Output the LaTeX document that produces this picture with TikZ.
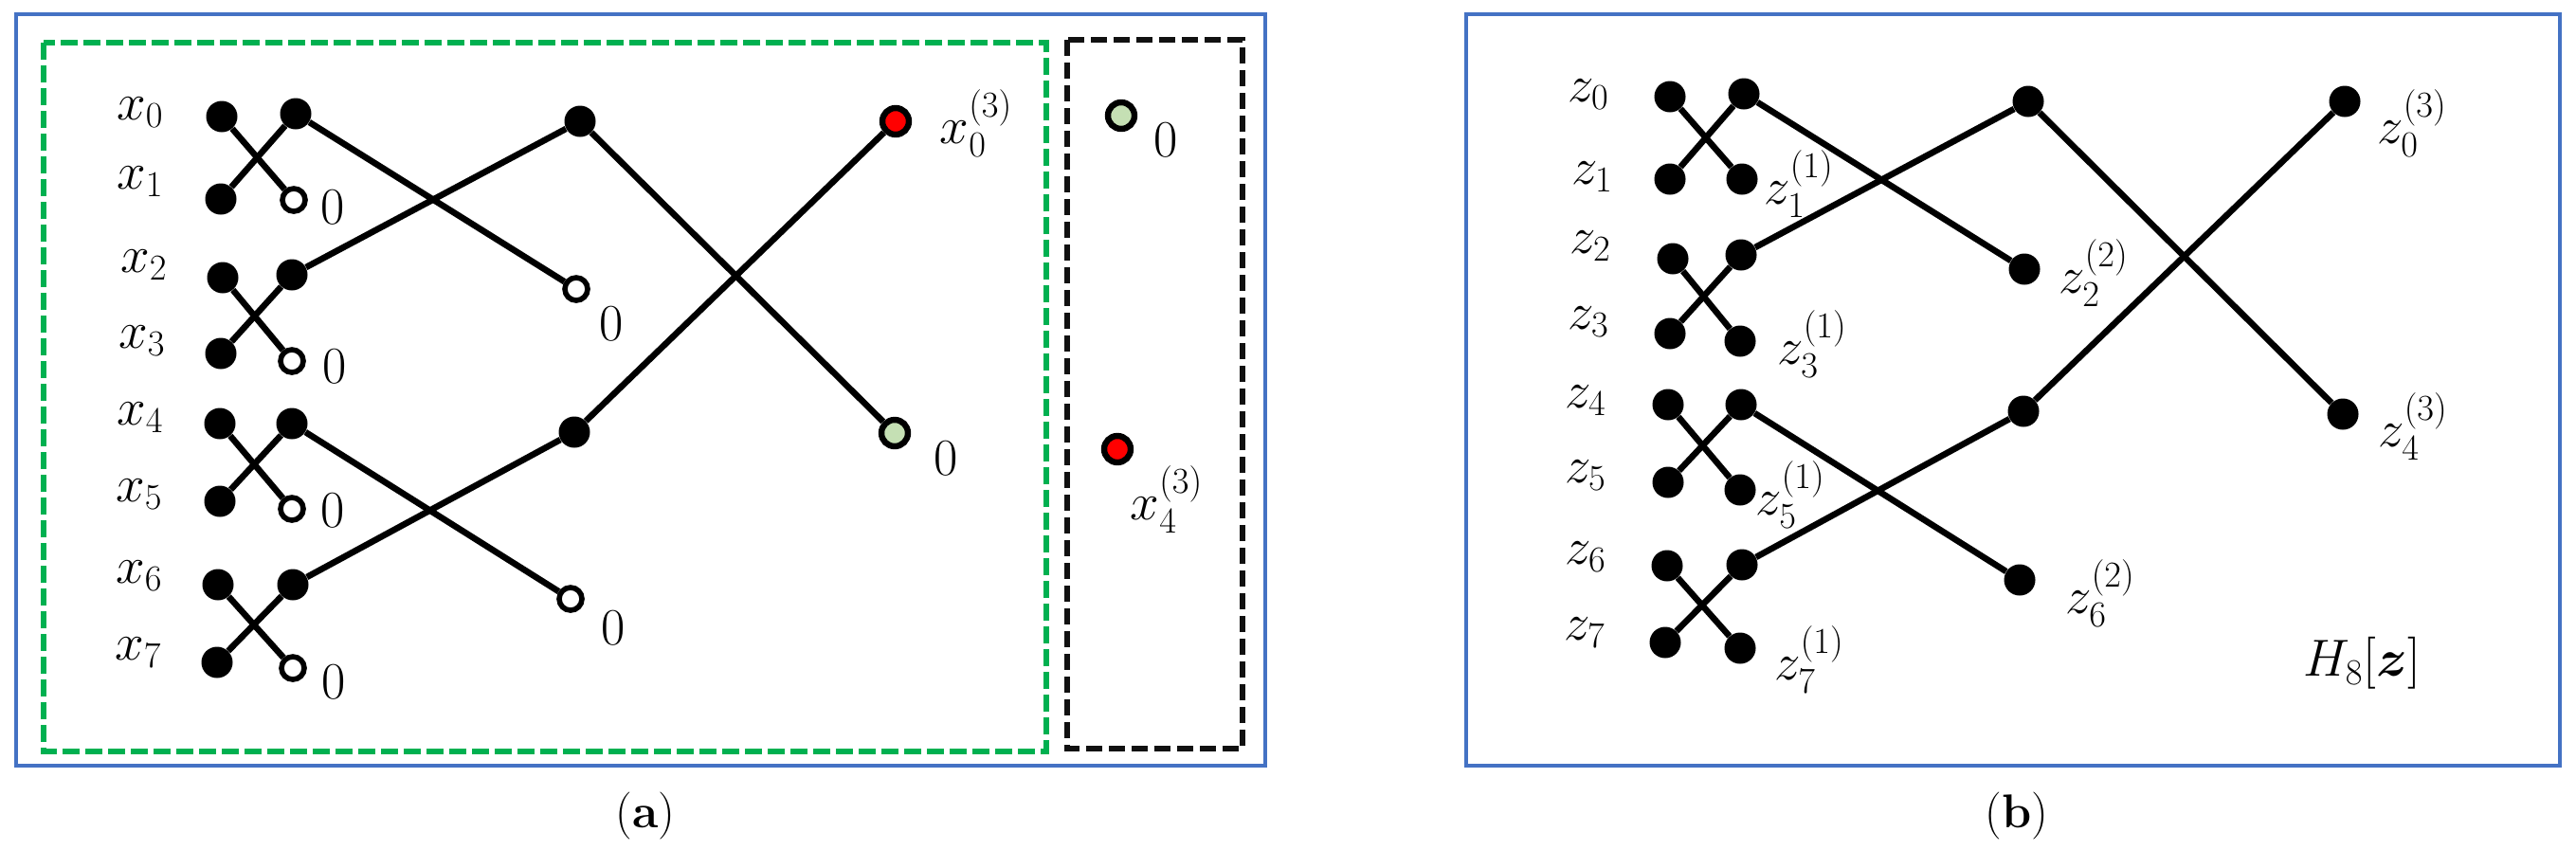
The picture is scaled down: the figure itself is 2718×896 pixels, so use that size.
\RequirePackage{fix-cm}
\documentclass[tikz,border=0pt]{standalone}
\usepackage{amsmath,bm}
\definecolor{frameblue}{HTML}{4472C4}
\definecolor{dashgreen}{HTML}{00B050}
\definecolor{lightgreen}{HTML}{C5E0B4}
\definecolor{dotred}{HTML}{FF0000}
\definecolor{dashblack}{HTML}{111111}
\begin{document}
\begin{tikzpicture}[x=0.5pt,y=-0.5pt,
  fdot/.style={circle,fill=black,inner sep=0pt,minimum size=16.5pt},
  odot/.style={circle,draw=black,fill=white,line width=2.8pt,inner sep=0pt,minimum size=12pt},
  rdot/.style={circle,draw=black,fill=dotred,line width=3.2pt,inner sep=0pt,minimum size=14pt},
  gdot/.style={circle,draw=black,fill=lightgreen,line width=3.2pt,inner sep=0pt,minimum size=14pt},
  lbl/.style={inner sep=0pt,font=\fontsize{27.5}{32}\selectfont},
  captext/.style={inner sep=0pt,font=\fontsize{25}{30}\selectfont},
  link/.style={line width=3.3pt},
  frame/.style={draw=frameblue,line width=2pt},
  gbox/.style={draw=dashgreen,line width=3pt,dash pattern=on 9pt off 3pt},
  kbox/.style={draw=dashblack,line width=3.3pt,dash pattern=on 8.5pt off 3.5pt}
]
\useasboundingbox[fill=white] (0,0) rectangle (2718,896);

% frames
\draw[frame] (17,15) rectangle (1335,808);
\draw[frame] (1547,15) rectangle (2701,808);
\draw[gbox] (46,45) rectangle (1104,793);
\draw[kbox] (1126,42) rectangle (1311,790);

% ---------- panel (a) nodes ----------
\node[fdot] (a0) at (234,123) {};
\node[fdot] (b0) at (312,120) {};
\node[fdot] (a1) at (233,210) {};
\node[odot] (c1) at (310,211) {};
\node[fdot] (a2) at (235,293) {};
\node[fdot] (b2) at (308,290) {};
\node[fdot] (a3) at (233,373) {};
\node[odot] (c3) at (308,381) {};
\node[fdot] (a4) at (232,447) {};
\node[fdot] (b4) at (308,447) {};
\node[fdot] (a5) at (232,529) {};
\node[odot] (c5) at (308,537) {};
\node[fdot] (a6) at (230,617) {};
\node[fdot] (b6) at (309,617) {};
\node[fdot] (a7) at (229,699) {};
\node[odot] (c7) at (309,705) {};
\node[fdot] (s0) at (612,128) {};
\node[odot] (o2) at (608,305) {};
\node[fdot] (s4) at (606,456) {};
\node[odot] (o6) at (602,632) {};
\node[rdot] (r0) at (945,128) {};
\node[gdot] (g4) at (944,457) {};
\node[gdot] (gb) at (1183,122) {};
\node[rdot] (rb) at (1179,474) {};

% panel (a) links
\draw[link] (a0) -- (c1);
\draw[link] (a1) -- (b0);
\draw[link] (b0) -- (o2);
\draw[link] (a2) -- (c3);
\draw[link] (a3) -- (b2);
\draw[link] (b2) -- (s0);
\draw[link] (s0) -- (g4);
\draw[link] (a4) -- (c5);
\draw[link] (a5) -- (b4);
\draw[link] (b4) -- (o6);
\draw[link] (a6) -- (c7);
\draw[link] (a7) -- (b6);
\draw[link] (b6) -- (s4);
\draw[link] (s4) -- (r0);

% panel (a) labels
\node[lbl] (lx0) at (148,119) {$x_0$};
\node[lbl] (lx1) at (148,192) {$x_1$};
\node[lbl] (lx2) at (152,280) {$x_2$};
\node[lbl] (lx3) at (150,360) {$x_3$};
\node[lbl] (lx4) at (148,441) {$x_4$};
\node[lbl] (lx5) at (147,522) {$x_5$};
\node[lbl] (lx6) at (147,608) {$x_6$};
\node[lbl] (lx7) at (146,689) {$x_7$};
\node[lbl] (z1) at (351,219) {$0$};
\node[lbl] (z3) at (353,387) {$0$};
\node[lbl] (z5) at (351,539) {$0$};
\node[lbl] (z7) at (352,720) {$0$};
\node[lbl] (zo2) at (645,342) {$0$};
\node[lbl] (zo6) at (647,663) {$0$};
\node[lbl] (zg4) at (998,484) {$0$};
\node[lbl] (zgb) at (1230,148) {$0$};
\node[lbl] (lr0) at (1030,130) {$x_0^{(3)}$};
\node[lbl] (lrb) at (1231,527) {$x_4^{(3)}$};
\node[captext] (capa) at (681,861) {(\textbf{a})};

% ---------- panel (b) nodes ----------
\node[fdot] (p0) at (1762,102) {};
\node[fdot] (q0) at (1840,99) {};
\node[fdot] (p1) at (1762,189) {};
\node[fdot] (q1) at (1838,189) {};
\node[fdot] (p2) at (1765,273) {};
\node[fdot] (q2) at (1837,269) {};
\node[fdot] (p3) at (1762,352) {};
\node[fdot] (q3) at (1836,360) {};
\node[fdot] (p4) at (1760,427) {};
\node[fdot] (q4) at (1837,427) {};
\node[fdot] (p5) at (1760,509) {};
\node[fdot] (q5) at (1836,517) {};
\node[fdot] (p6) at (1759,597) {};
\node[fdot] (q6) at (1838,596) {};
\node[fdot] (p7) at (1757,678) {};
\node[fdot] (q7) at (1836,684) {};
\node[fdot] (t0) at (2140,107) {};
\node[fdot] (t2) at (2136,284) {};
\node[fdot] (t4) at (2135,434) {};
\node[fdot] (t6) at (2131,612) {};
\node[fdot] (u0) at (2474,107) {};
\node[fdot] (u4) at (2472,437) {};

% panel (b) links
\draw[link] (p0) -- (q1);
\draw[link] (p1) -- (q0);
\draw[link] (q0) -- (t2);
\draw[link] (p2) -- (q3);
\draw[link] (p3) -- (q2);
\draw[link] (q2) -- (t0);
\draw[link] (t0) -- (u4);
\draw[link] (p4) -- (q5);
\draw[link] (p5) -- (q4);
\draw[link] (q4) -- (t6);
\draw[link] (p6) -- (q7);
\draw[link] (p7) -- (q6);
\draw[link] (q6) -- (t4);
\draw[link] (t4) -- (u0);

% panel (b) labels
\node[lbl] (lz0) at (1676,100) {$z_0$};
\node[lbl] (lz1) at (1680,187) {$z_1$};
\node[lbl] (lz2) at (1678,260) {$z_2$};
\node[lbl] (lz3) at (1676,340) {$z_3$};
\node[lbl] (lz4) at (1673,423) {$z_4$};
\node[lbl] (lz5) at (1673,502) {$z_5$};
\node[lbl] (lz6) at (1673,588) {$z_6$};
\node[lbl] (lz7) at (1672,668) {$z_7$};
\node[lbl] (lq1) at (1898,194) {$z_1^{(1)}$};
\node[lbl] (lq3) at (1912,363) {$z_3^{(1)}$};
\node[lbl] (lq5) at (1889,522) {$z_5^{(1)}$};
\node[lbl] (lq7) at (1909,696) {$z_7^{(1)}$};
\node[lbl] (lt2) at (2209,288) {$z_2^{(2)}$};
\node[lbl] (lt6) at (2216,626) {$z_6^{(2)}$};
\node[lbl] (lu0) at (2545,130) {$z_0^{(3)}$};
\node[lbl] (lu4) at (2546,450) {$z_4^{(3)}$};
\node[lbl] (lh) at (2492,700) {$H_8[\boldsymbol{z}]$};
\node[captext] (capb) at (2128,861) {(\textbf{b})};
\end{tikzpicture}
\end{document}
